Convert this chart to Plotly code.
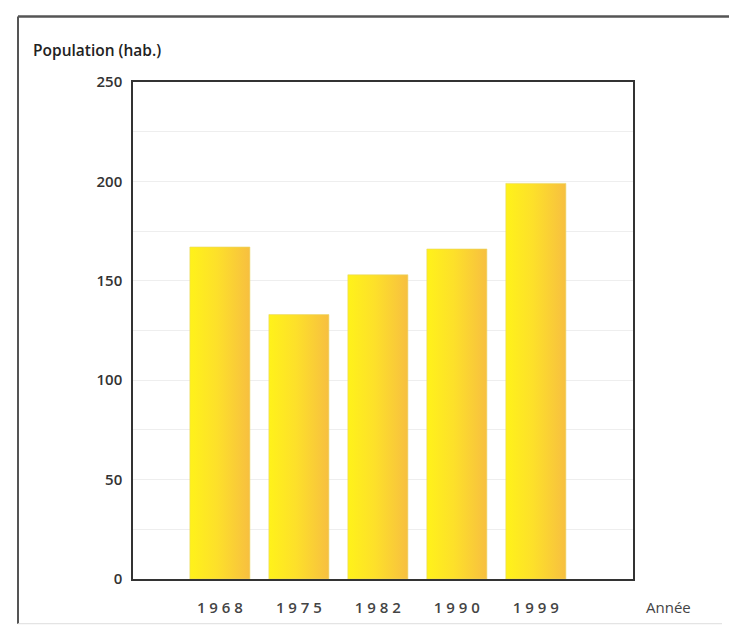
import plotly.graph_objects as go

# Population par recensement
annees = ["1968", "1975", "1982", "1990", "1999"]
population = [167, 133, 153, 166, 199]
y_ticks = [0, 50, 100, 150, 200, 250]

bar_width = 0.76
grad = [[0, "#FFF21A"], [0.45, "#FDE02A"], [1, "#F7BF40"]]

fig = go.Figure()
for i, (a, v) in enumerate(zip(annees, population)):
    x0, x1 = i - bar_width / 2, i + bar_width / 2
    fig.add_trace(go.Scatter(
        x=[x0, x1, x1, x0, x0],
        y=[0, 0, v, v, 0],
        mode="lines",
        line=dict(width=0.6, color="#E8D86A"),
        fill="toself",
        fillgradient=dict(type="horizontal", colorscale=grad),
        name=a,
        hoverinfo="text",
        text=f"{a} : {v} hab.",
        showlegend=False,
    ))

font = "Open Sans, Noto Sans, sans-serif"

fig.update_layout(
    width=729, height=629,
    margin=dict(l=133, r=96, t=82, b=47),
    paper_bgcolor="white",
    plot_bgcolor="white",
    font=dict(family=font, color="#222", size=14),
    xaxis=dict(
        tickmode="array",
        tickvals=list(range(len(annees))),
        ticktext=[" ".join(a) for a in annees],
        range=[-1.1, 5.23],
        showgrid=False, zeroline=False,
        showline=True, linecolor="#333", linewidth=1.5, mirror=True,
        ticks="", ticklabelstandoff=14,
        tickfont=dict(size=15, color="#444", weight=600),
        fixedrange=True,
    ),
    yaxis=dict(
        range=[0, 250],
        tickmode="array", tickvals=y_ticks,
        showgrid=False, zeroline=False,
        showline=True, linecolor="#333", linewidth=1.5, mirror=True,
        ticks="", ticklabelstandoff=6,
        tickfont=dict(size=15, color="#333", weight=600),
        minor=dict(dtick=25, showgrid=True, gridcolor="#EEEEEE", gridwidth=1),
        fixedrange=True,
    ),
    shapes=[
        dict(type="line", xref="paper", yref="paper",
             x0=-115/500, x1=(729-133)/500, y0=(629-47-16)/500, y1=(629-47-16)/500,
             line=dict(color="#555", width=2.5)),
        dict(type="line", xref="paper", yref="paper",
             x0=-115/500, x1=-115/500, y0=(629-47-16)/500, y1=-45/500,
             line=dict(color="#555", width=2)),
        dict(type="line", xref="paper", yref="paper",
             x0=-115/500, x1=(722-133)/500, y0=-45/500, y1=-45/500,
             line=dict(color="#DDD", width=1)),
    ],
    annotations=[
        dict(text="Population (hab.)", xref="paper", yref="paper",
             x=-102/500, y=(582-50)/500, xanchor="left", yanchor="middle",
             showarrow=False, font=dict(size=15.5, color="#222", weight=600)),
        dict(text="Année", xref="paper", yref="paper",
             x=(668-133)/500, y=-28/500, xanchor="center", yanchor="middle",
             showarrow=False, font=dict(size=15, color="#444")),
    ],
)

fig.write_html("out.html")
